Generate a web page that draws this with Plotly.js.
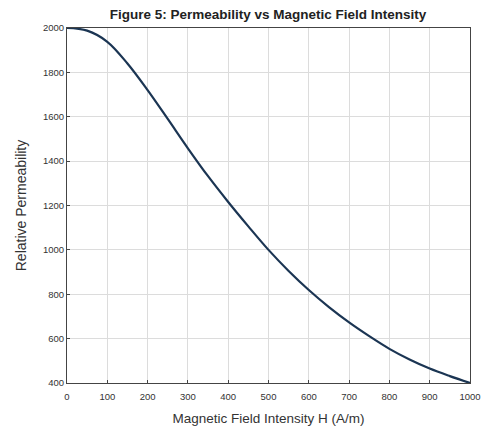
<!DOCTYPE html>
<html>
<head>
<meta charset="utf-8">
<script src="https://cdn.plot.ly/plotly-3.0.1.min.js"></script>
<style>html,body{margin:0;padding:0;background:#fff;}#chart{width:483px;height:431px;}</style>
</head>
<body>
<div id="chart"></div>
<script>
const fieldH = [0, 50, 100, 150, 200, 250, 300, 350, 400, 450, 500, 550, 600, 650, 700, 750, 800, 850, 900, 950, 1000];
const permeability = [2000, 1988, 1938, 1840, 1720, 1590, 1458, 1332, 1216, 1106, 1000, 905, 819, 742, 673, 611, 554, 506, 465, 431, 400];
const xTicks = [0, 100, 200, 300, 400, 500, 600, 700, 800, 900, 1000];
const yTicks = [400, 600, 800, 1000, 1200, 1400, 1600, 1800, 2000];

const trace = {
  x: fieldH, y: permeability, type: 'scatter', mode: 'lines',
  line: {color: '#1b3553', width: 2.2, shape: 'spline', smoothing: 1}
};
const axisCommon = {
  showgrid: true, gridcolor: '#dcdcdc', gridwidth: 1,
  showline: true, linecolor: '#444', linewidth: 1, mirror: true,
  ticks: 'inside', ticklen: 3, tickcolor: '#444',
  zeroline: false, tickfont: {family: 'Liberation Sans, Arial', size: 9.5, color: '#333'}
};
const layout = {
  width: 483, height: 431,
  margin: {l: 67, r: 13, t: 28, b: 48},
  paper_bgcolor: '#fff', plot_bgcolor: '#fff',
  showlegend: false,
  title: {text: '<b>Figure 5: Permeability vs Magnetic Field Intensity</b>', x: 0.555, xanchor: 'center', y: 0.966, yanchor: 'middle',
    font: {family: 'Liberation Sans, Arial', size: 13.5, color: '#222'}},
  xaxis: Object.assign({}, axisCommon, {range: [0, 1000], tickvals: xTicks, ticktext: xTicks.map(String), ticklabelstandoff: 5,
    title: {text: 'Magnetic Field Intensity H (A/m)', standoff: 12, font: {family: 'Liberation Sans, Arial', size: 13.5, color: '#333'}}}),
  yaxis: Object.assign({}, axisCommon, {range: [400, 2000], tickvals: yTicks, ticktext: yTicks.map(String),
    title: {text: 'Relative Permeability', standoff: 13, font: {family: 'Liberation Sans, Arial', size: 14, color: '#333'}}})
};
Plotly.newPlot('chart', [trace], layout, {displayModeBar: false, staticPlot: true});
</script>
</body>
</html>
